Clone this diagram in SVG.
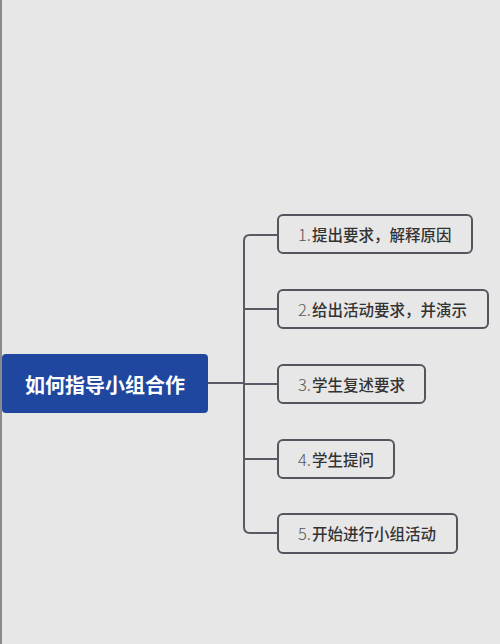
<svg xmlns="http://www.w3.org/2000/svg" width="500" height="644" viewBox="0 0 500 644">
<style>
.bg{fill:#e7e7e7}
.edge{fill:#8a8a8a}
.conn{fill:none;stroke:#5a5a66;stroke-width:2}
.box{fill:#e7e7e7;stroke:#55555f;stroke-width:2}
.root{fill:#1f47a0}
.rt{font-family:"Noto Sans CJK SC","Noto Sans",sans-serif;font-size:20px;font-weight:bold;fill:#ffffff}
.t{font-family:"Noto Sans CJK SC","Noto Sans",sans-serif;font-size:15.5px;font-weight:500;fill:#333333}
.n{font-weight:300;font-size:16.5px;fill:#555555}
</style>
<rect class="bg" x="0" y="0" width="500" height="644"/>
<rect class="edge" x="0" y="0" width="2" height="644"/>
<g id="connectors">
<path class="conn" d="M208,383 H244"/>
<path class="conn" d="M278,235 H250 Q244,235 244,241 V527 Q244,533 250,533 H278"/>
<path class="conn" d="M244,309 H278"/>
<path class="conn" d="M244,384 H278"/>
<path class="conn" d="M244,459 H278"/>
</g>
<g id="root">
<rect class="root" x="2" y="354" width="206" height="59" rx="4"/>
<text class="rt" x="105" y="384" text-anchor="middle" dominant-baseline="central">如何指导小组合作</text>
</g>
<g id="n1">
<rect class="box" x="278" y="215" width="194" height="38" rx="5"/>
<text class="t" x="298" y="234" dominant-baseline="central"><tspan class="n">1.</tspan><tspan dx="1">提出要求，解释原因</tspan></text>
</g>
<g id="n2">
<rect class="box" x="278" y="290" width="210" height="38" rx="5"/>
<text class="t" x="298" y="309" dominant-baseline="central"><tspan class="n">2.</tspan><tspan dx="1">给出活动要求，并演示</tspan></text>
</g>
<g id="n3">
<rect class="box" x="278" y="365" width="147" height="38" rx="5"/>
<text class="t" x="298" y="384" dominant-baseline="central"><tspan class="n">3.</tspan><tspan dx="1">学生复述要求</tspan></text>
</g>
<g id="n4">
<rect class="box" x="278" y="440" width="116" height="38" rx="5"/>
<text class="t" x="298" y="459" dominant-baseline="central"><tspan class="n">4.</tspan><tspan dx="1">学生提问</tspan></text>
</g>
<g id="n5">
<rect class="box" x="278" y="514" width="179" height="39" rx="5"/>
<text class="t" x="298" y="533" dominant-baseline="central"><tspan class="n">5.</tspan><tspan dx="1">开始进行小组活动</tspan></text>
</g>
</svg>
